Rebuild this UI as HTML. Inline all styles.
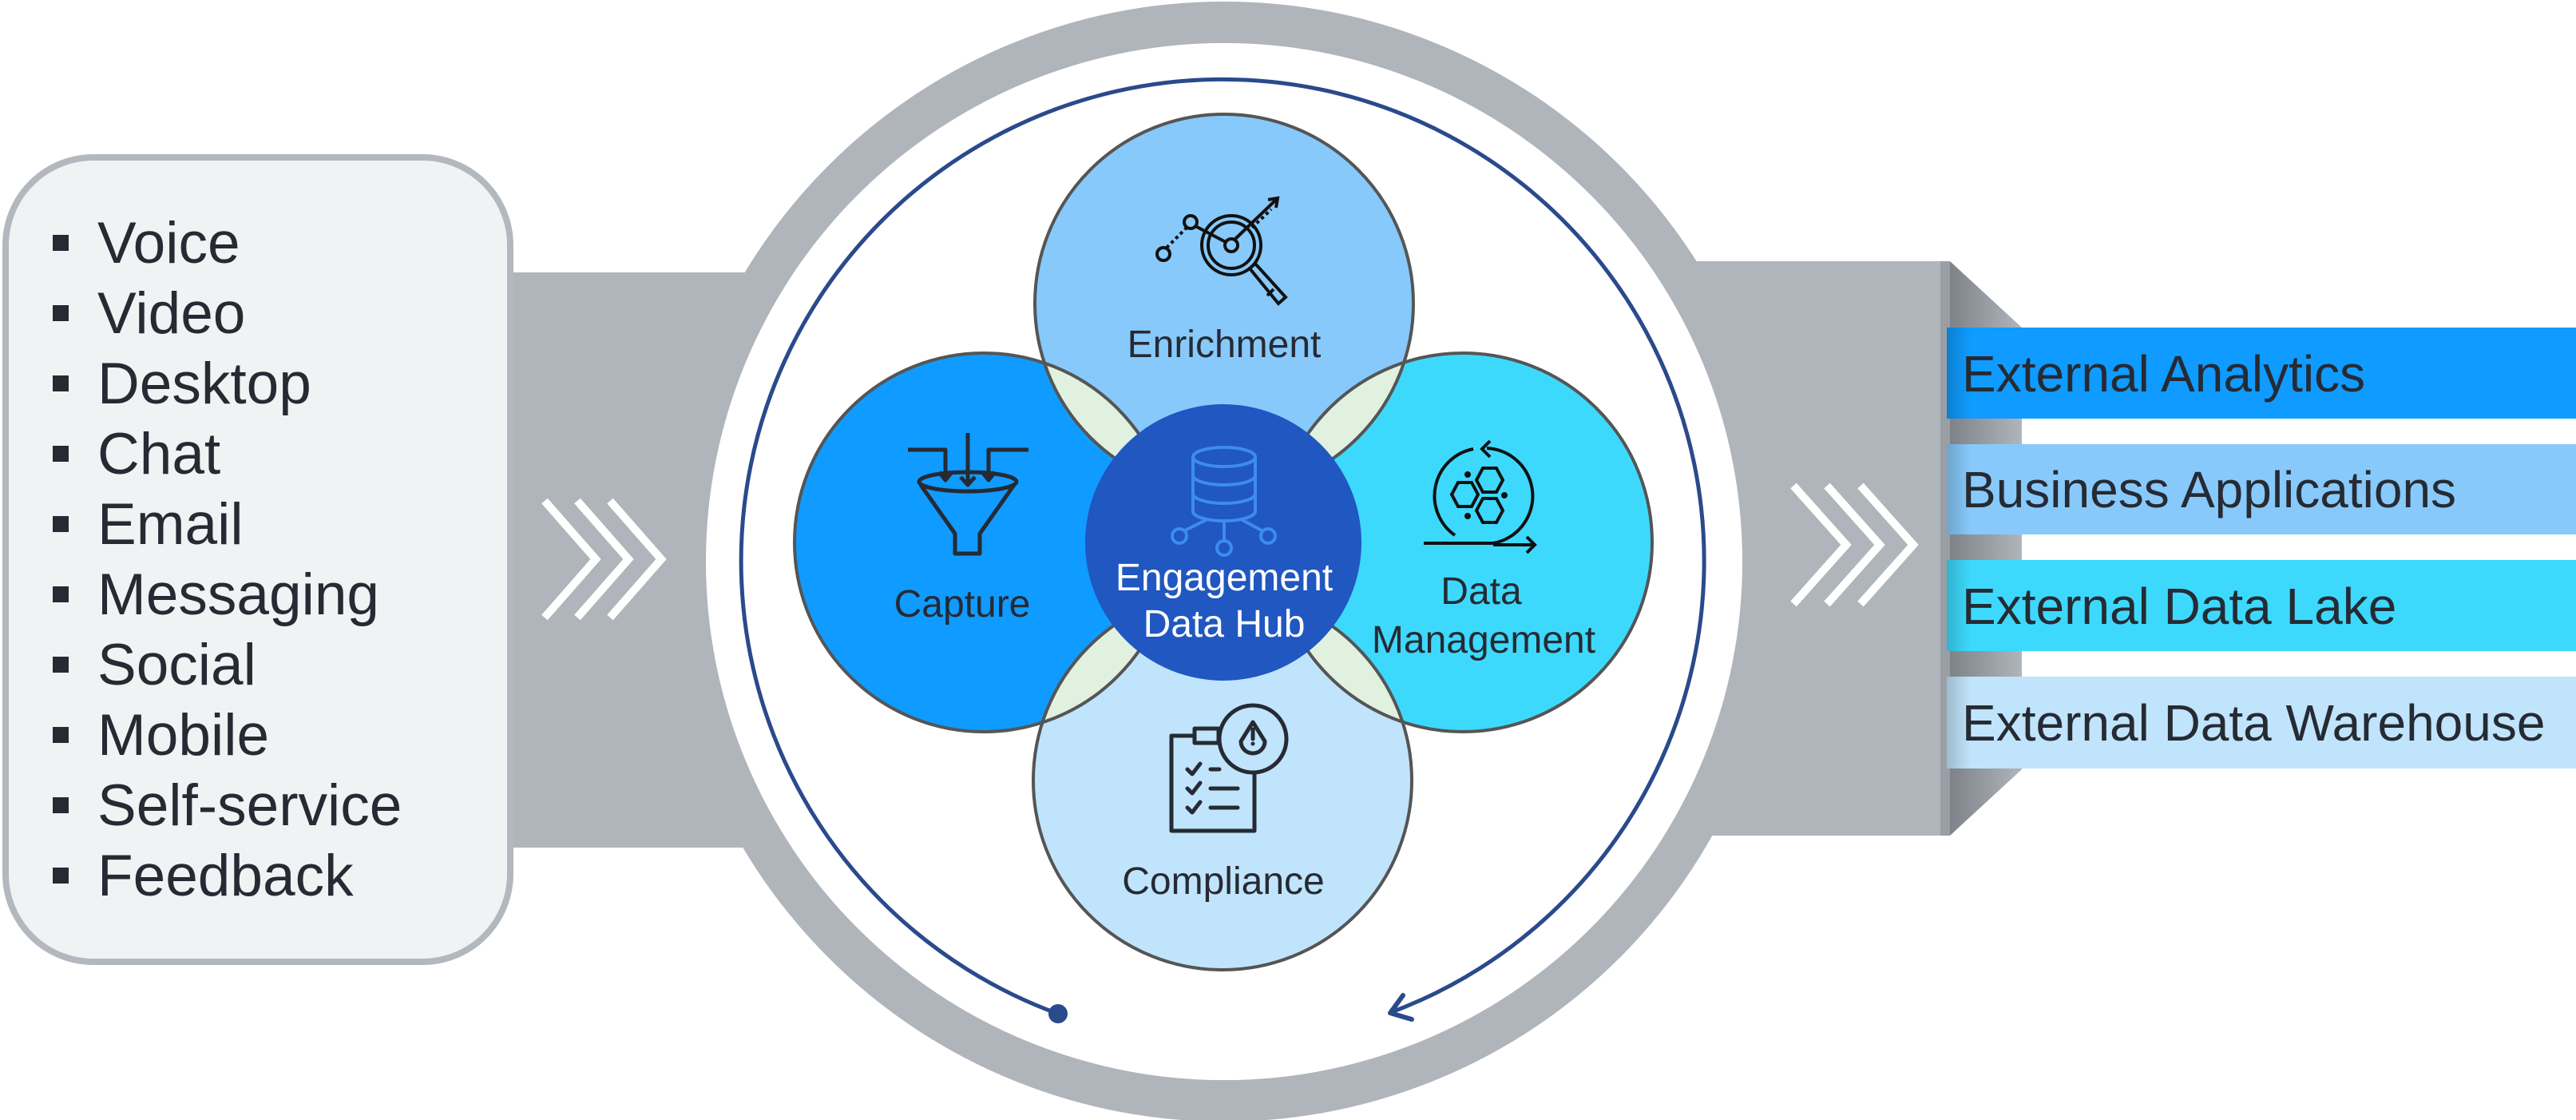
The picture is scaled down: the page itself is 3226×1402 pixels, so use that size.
<!DOCTYPE html>
<html><head><meta charset="utf-8"><style>
html,body{margin:0;padding:0;background:#fff;}
svg{display:block;}
text{font-family:"Liberation Sans",Arial,sans-serif;}
</style></head><body>
<svg width="3226" height="1402" viewBox="0 0 3226 1402" xmlns="http://www.w3.org/2000/svg">
<defs>
<clipPath id="cEn"><circle cx="1533" cy="380" r="237"/></clipPath>
<clipPath id="cCo"><circle cx="1531" cy="977" r="237"/></clipPath>
<linearGradient id="shd" x1="0" x2="1" y1="0" y2="0"><stop offset="0" stop-color="#7e838a"/><stop offset="1" stop-color="#b0b5bb"/></linearGradient>
<linearGradient id="barL" x1="0" x2="1" y1="0" y2="0"><stop offset="0" stop-color="#000" stop-opacity="0.18"/><stop offset="1" stop-color="#000" stop-opacity="0"/></linearGradient>
</defs>

<rect x="630" y="341" width="500" height="720" fill="#b0b5bb"/>
<polygon points="2442,327 2532,410 2532,963 2442,1046" fill="url(#shd)"/>
<rect x="1950" y="327" width="492" height="719" fill="#b0b5bb"/>
<rect x="2430" y="327" width="12" height="719" fill="#9a9fa5"/>
<circle cx="1533" cy="703" r="675" fill="none" stroke="#b0b5bb" stroke-width="52"/>
<circle cx="1533" cy="703" r="649" fill="#fff"/>

<rect x="7" y="197" width="632" height="1007" rx="110" fill="#f1f2f4" stroke="#b3b8be" stroke-width="8"/>
<g fill="#262a33">
<rect x="66" y="294" width="20" height="20"/><rect x="66" y="382" width="20" height="20"/>
<rect x="66" y="470" width="20" height="20"/><rect x="66" y="558" width="20" height="20"/>
<rect x="66" y="646" width="20" height="20"/><rect x="66" y="734" width="20" height="20"/>
<rect x="66" y="822" width="20" height="20"/><rect x="66" y="910" width="20" height="20"/>
<rect x="66" y="998" width="20" height="20"/><rect x="66" y="1086" width="20" height="20"/>
</g>
<g font-size="73" fill="#262a33">
<text x="122" y="329">Voice</text><text x="122" y="417">Video</text>
<text x="122" y="505">Desktop</text><text x="122" y="593">Chat</text>
<text x="122" y="681">Email</text><text x="122" y="769">Messaging</text>
<text x="122" y="857">Social</text><text x="122" y="945">Mobile</text>
<text x="122" y="1033">Self-service</text><text x="122" y="1121">Feedback</text>
</g>

<g fill="none" stroke="#fff" stroke-width="10">
<polyline points="682,627 746,700 682,773"/><polyline points="723,627 787,700 723,773"/><polyline points="764,627 828,700 764,773"/>
<polyline points="2246,608 2312,682 2246,756"/><polyline points="2288,608 2354,682 2288,756"/><polyline points="2330,608 2396,682 2330,756"/>
</g>

<rect x="2438" y="410" width="788" height="114" fill="#0f9bff"/>
<rect x="2438" y="556" width="788" height="113" fill="#87c9fb"/>
<rect x="2438" y="701" width="788" height="114" fill="#3dd9fd"/>
<rect x="2438" y="847" width="788" height="115" fill="#c0e4fb"/>
<g fill="url(#barL)"><rect x="2438" y="410" width="30" height="114"/><rect x="2438" y="556" width="30" height="113"/><rect x="2438" y="701" width="30" height="114"/><rect x="2438" y="847" width="30" height="115"/></g>
<g font-size="64" fill="#262a33">
<text x="2457" y="490">External Analytics</text>
<text x="2457" y="635">Business Applications</text>
<text x="2457" y="781">External Data Lake</text>
<text x="2457" y="927">External Data Warehouse</text>
</g>

<path d="M1325 1269 A603 603 0 1 1 1740 1268" fill="none" stroke="#2a4a8c" stroke-width="5"/>
<circle cx="1325" cy="1269" r="12" fill="#2a4a8c"/>
<polyline points="1757,1246 1741,1268 1768,1276" fill="none" stroke="#2a4a8c" stroke-width="6" stroke-linecap="round" stroke-linejoin="round"/>

<circle cx="1533" cy="380" r="237" fill="#87c9fb"/>
<circle cx="1531" cy="977" r="237" fill="#c0e4fb"/>
<circle cx="1232" cy="679" r="237" fill="#0f9bff"/>
<circle cx="1832" cy="679" r="237" fill="#3dd9fd"/>
<g fill="#e0f1e0">
<circle cx="1232" cy="679" r="237" clip-path="url(#cEn)"/>
<circle cx="1832" cy="679" r="237" clip-path="url(#cEn)"/>
<circle cx="1232" cy="679" r="237" clip-path="url(#cCo)"/>
<circle cx="1832" cy="679" r="237" clip-path="url(#cCo)"/>
</g>
<g fill="none" stroke="#555" stroke-width="4">
<circle cx="1533" cy="380" r="237"/><circle cx="1531" cy="977" r="237"/>
<circle cx="1232" cy="679" r="237"/><circle cx="1832" cy="679" r="237"/>
</g>
<circle cx="1532" cy="679" r="173" fill="#2057c1"/>

<g fill="none" stroke="#3d8bf0" stroke-width="4">
<ellipse cx="1533" cy="572" rx="39" ry="12"/>
<path d="M1494 572 V640 A39 12 0 0 0 1572 640 V572"/>
<path d="M1494 595 A39 12 0 0 0 1572 595"/><path d="M1494 618 A39 12 0 0 0 1572 618"/>
<path d="M1533 652 V676 M1512 650 L1484 664 M1554 650 L1580 664"/>
<circle cx="1477" cy="671" r="9"/><circle cx="1533" cy="686" r="9"/><circle cx="1588" cy="671" r="9"/>
</g>
<g font-size="48" fill="#fff" text-anchor="middle">
<text x="1533" y="739">Engagement</text><text x="1533" y="797">Data Hub</text>
</g>

<g font-size="48" fill="#262a33" text-anchor="middle">
<text x="1533" y="447">Enrichment</text>
<text x="1205" y="772">Capture</text>
<text x="1855" y="756">Data</text><text x="1858" y="817">Management</text>
<text x="1532" y="1119">Compliance</text>
</g>

<g fill="none" stroke="#111" stroke-width="4">
<circle cx="1457" cy="318" r="8"/><circle cx="1491" cy="278" r="8"/>
<path d="M1461 310 L1486 285" stroke-dasharray="4 4"/>
<circle cx="1542" cy="307" r="37"/><circle cx="1542" cy="307" r="29"/>
<circle cx="1542" cy="307" r="8"/>
<path d="M1497 283 L1535 303 M1546 300 L1598 250 M1588 250 L1600 248 L1598 260"/>
<path d="M1568 285 L1592 262" stroke-dasharray="4 4"/>
<path d="M1565 336 L1572 330 L1610 372 L1601 380 Z M1595 362 L1587 370"/>
</g>

<g fill="none" stroke="#262a33" stroke-width="5" stroke-linejoin="round">
<path d="M1137 563 H1184 V600 M1176 591 L1184 601 L1192 591"/>
<path d="M1212 542 V606 M1203 597 L1212 607 L1221 597"/>
<path d="M1288 563 H1238 V600 M1230 591 L1238 601 L1246 591"/>
<ellipse cx="1212" cy="603" rx="61" ry="12"/>
<path d="M1153 607 L1196 668 V693 H1227 V668 L1270 607"/>
</g>

<g fill="none" stroke="#111" stroke-width="4">
<path d="M1862 561 A60 60 0 0 1 1870 680 H1783"/>
<path d="M1845 562 A60 60 0 0 0 1822 670"/>
<path d="M1866 552 L1856 562 L1866 572"/>
<path d="M1870 682 H1922 M1912 672 L1922 682 L1912 692"/>
<polygon points="1826,604 1843,604 1851,619 1843,634 1826,634 1818,619"/>
<polygon points="1857,586 1874,586 1882,601 1874,616 1857,616 1849,601"/>
<polygon points="1857,624 1874,624 1882,639 1874,654 1857,654 1849,639"/>
</g>
<g fill="#111"><circle cx="1838" cy="594" r="4"/><circle cx="1838" cy="646" r="4"/><circle cx="1884" cy="620" r="4"/></g>

<g fill="none" stroke="#262a33" stroke-width="5" stroke-linejoin="round" stroke-linecap="round">
<path d="M1571 968 V1040 H1467 V921 H1496"/>
<rect x="1496" y="912" width="30" height="18"/>
<circle cx="1569" cy="925" r="42"/>
<path d="M1569 904 L1584 928 A15 15 0 0 1 1554 928 Z"/>
<path d="M1569 913 V925"/>
<path d="M1487 963 L1493 969 L1503 956 M1516 963 H1527"/>
<path d="M1487 987 L1493 993 L1503 980 M1516 987 H1550"/>
<path d="M1487 1011 L1493 1017 L1503 1004 M1516 1011 H1550"/>
</g>
<circle cx="1569" cy="931" r="2.5" fill="#262a33"/>
</svg>
</body></html>
